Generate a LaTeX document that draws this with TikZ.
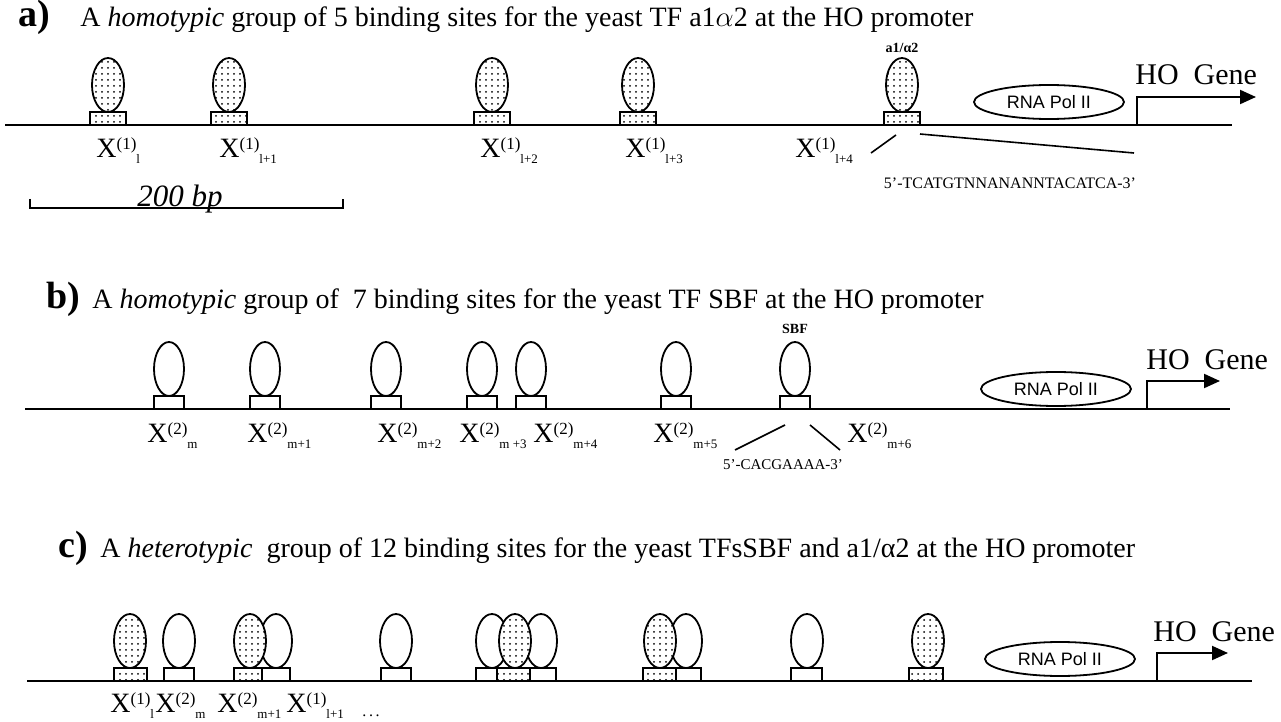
\documentclass[tikz,border=0pt]{standalone}
\usepackage{fontspec}
\setmainfont{Liberation Serif}
\setsansfont{Liberation Sans}
\usepackage{tikz}
\usetikzlibrary{arrows.meta,shapes.geometric,patterns}
\newcommand{\xlab}[2]{X\raisebox{4pt}{\fontsize{8.5}{9}\selectfont(#1)}\raisebox{-3pt}{\fontsize{6.5}{7}\selectfont#2}}

\begin{document}
\begin{tikzpicture}[x=0.5pt,y=-0.5pt,
  dna/.style={line width=1pt},
  bubw/.style={ellipse,draw,line width=0.9pt,fill=white,inner sep=0pt,minimum width=16pt,minimum height=27pt},
  bubs/.style={bubw,postaction={pattern=dots}},
  boxw/.style={rectangle,draw,line width=1pt,fill=white,inner sep=0pt,minimum width=#1,minimum height=6.5pt},
  boxw/.default=16pt,
  boxs/.style={boxw=#1,postaction={pattern=dots}},
  boxs/.default=16pt,
  pol/.style={ellipse,draw,line width=0.9pt,inner sep=0pt,minimum width=75pt,minimum height=17pt,font=\sffamily\fontsize{9}{10}\selectfont},
  part/.style={anchor=base west,inner sep=0pt,font=\fontsize{19}{21}\selectfont\bfseries},
  ttlnode/.style={anchor=base west,inner sep=0pt,font=\fontsize{14}{17}\selectfont},
  lab/.style={anchor=base west,inner sep=0pt,font=\fontsize{14}{16}\selectfont},
  gene/.style={anchor=base west,inner sep=0pt,font=\fontsize{15}{18}\selectfont},
  seq/.style={inner sep=0pt,font=\fontsize{7.5}{9}\selectfont},
  tf/.style={inner sep=0pt,font=\fontsize{7}{8}\selectfont\bfseries},
  tss/.style={line width=1pt,-{Triangle[length=8pt,width=7pt]}},
  thin/.style={line width=0.8pt}]
  \useasboundingbox (0,0) rectangle (1281,722);

  % a) homotypic, a1/alpha2
  \node[part] (la) at (18,27) {a)};
  \node[ttlnode] (ta) at (80,27) {A \textit{homotypic} group of 5 binding sites for the yeast TF a1$\alpha$2 at the HO promoter};
  \coordinate (aL) at (5,125); \coordinate (aR) at (1232,125);
  \draw[dna] (aL) -- (aR);
  \foreach \x [count=\i] in {108,229,492,638,902}{
    \node[boxs=18pt] (abx\i) at (\x,118.5) {};
    \node[bubs] (abb\i) at (\x,85) {};
  }
  \node[tf] (atf) at (902,48) {a1/α2};
  \node[pol] (apol) at (1049,102) {RNA Pol II};
  \coordinate (ats) at (1137,125); \coordinate (atip) at (1256,97);
  \draw[tss] (ats) |- (atip);
  \node[gene] (agene) at (1135,85) {HO\ \ Gene};
  \node[lab] (ax1) at (96,158) {\xlab{1}{l}};
  \node[lab] (ax2) at (219,158) {\xlab{1}{l+1}};
  \node[lab] (ax3) at (480,158) {\xlab{1}{l+2}};
  \node[lab] (ax4) at (625,158) {\xlab{1}{l+3}};
  \node[lab] (ax5) at (795,158) {\xlab{1}{l+4}};
  \coordinate (ad1) at (871,153); \coordinate (ad2) at (896,135);
  \coordinate (ad3) at (920,134); \coordinate (ad4) at (1134,153);
  \draw[thin] (ad1) -- (ad2) (ad3) -- (ad4);
  \node[seq,font=\fontsize{8}{9}\selectfont] (asq) at (1010,183) {5’-TCATGTNNANANNTACATCA-3’};
  \coordinate (sbL) at (30,208); \coordinate (sbR) at (343,208);
  \draw[thin] ([yshift=4.5pt]sbL) -- (sbL) -- (sbR) -- ([yshift=4.5pt]sbR);
  \node[anchor=base,inner sep=0pt,font=\fontsize{15.5}{17}\selectfont\itshape] (bp) at (180,206) {200 bp};

  % b) homotypic, SBF
  \node[part] (lb) at (46,308) {b)};
  \node[ttlnode] (tb) at (92,308) {A \textit{homotypic} group of\ \ 7 binding sites for the yeast TF SBF at the HO promoter};
  \coordinate (bL) at (25,409); \coordinate (bR) at (1230,409);
  \draw[dna] (bL) -- (bR);
  \foreach \x [count=\i] in {169,265,386,482,531,676,795}{
    \node[boxw=15pt] (bbx\i) at (\x,402.5) {};
    \node[bubw,minimum width=15pt] (bbb\i) at (\x,369) {};
  }
  \node[tf] (btf) at (795,329) {SBF};
  \node[pol] (bpol) at (1056,389) {RNA Pol II};
  \coordinate (bts) at (1147,409); \coordinate (btip) at (1220,381);
  \draw[tss] (bts) |- (btip);
  \node[gene] (bgene) at (1146,369) {HO\ \ Gene};
  \node[lab] (bx1) at (147,442) {\xlab{2}{m}};
  \node[lab] (bx2) at (247,442) {\xlab{2}{m+1}};
  \node[lab] (bx3) at (377,442) {\xlab{2}{m+2}};
  \node[lab] (bx4) at (459,442) {\xlab{2}{m +3}};
  \node[lab] (bx5) at (533,442) {\xlab{2}{m+4}};
  \node[lab] (bx6) at (653,442) {\xlab{2}{m+5}};
  \node[lab] (bx7) at (847,442) {\xlab{2}{m+6}};
  \coordinate (bd1) at (785,425); \coordinate (bd2) at (735,450);
  \coordinate (bd3) at (810,425); \coordinate (bd4) at (840,450);
  \draw[thin] (bd1) -- (bd2) (bd3) -- (bd4);
  \node[seq] (bsq) at (783,465) {5’-CACGAAAA-3’};

  % c) heterotypic, SBF + a1/alpha2
  \node[part] (lc) at (58,557) {c)};
  \node[ttlnode] (tc) at (100,557) {A \textit{heterotypic}\ \ group of 12 binding sites for the yeast TFsSBF and a1/α2 at the HO promoter};
  \coordinate (cL) at (27,681); \coordinate (cR) at (1252,681);
  \draw[dna] (cL) -- (cR);
  \foreach \x/\w [count=\i] in {179/15pt,276/14pt,396/15pt,486.5/10.5pt,543/13pt,688.5/12.5pt,806/15.5pt}
    \node[boxw=\w] (cwx\i) at (\x,674.5) {};
  \foreach \x/\w [count=\i] in {130/16.5pt,248/14pt,513.5/16.5pt,659.5/16.5pt,926/17pt}
    \node[boxs=\w] (csx\i) at (\x,674.5) {};
  \foreach \x [count=\i] in {179,276,396,492,541,686,807}
    \node[bubw] (cwb\i) at (\x,641) {};
  \foreach \x [count=\i] in {130,250,515,660,928}
    \node[bubs] (csb\i) at (\x,641) {};
  \node[pol] (cpol) at (1060,659) {RNA Pol II};
  \coordinate (cts) at (1157,681); \coordinate (ctip) at (1228,653);
  \draw[tss] (cts) |- (ctip);
  \node[gene] (cgene) at (1153,641) {HO\ \ Gene};
  \node[lab] (cx1) at (110,712) {\xlab{1}{l}};
  \node[lab] (cx2) at (155,712) {\xlab{2}{m}};
  \node[lab] (cx3) at (217,712) {\xlab{2}{m+1}};
  \node[lab] (cx4) at (286,712) {\xlab{1}{l+1}};
  \node[anchor=base west,inner sep=0pt,font=\fontsize{8}{9}\selectfont] (cdots) at (362,716) {.\,.\,.};
\end{tikzpicture}
\end{document}
